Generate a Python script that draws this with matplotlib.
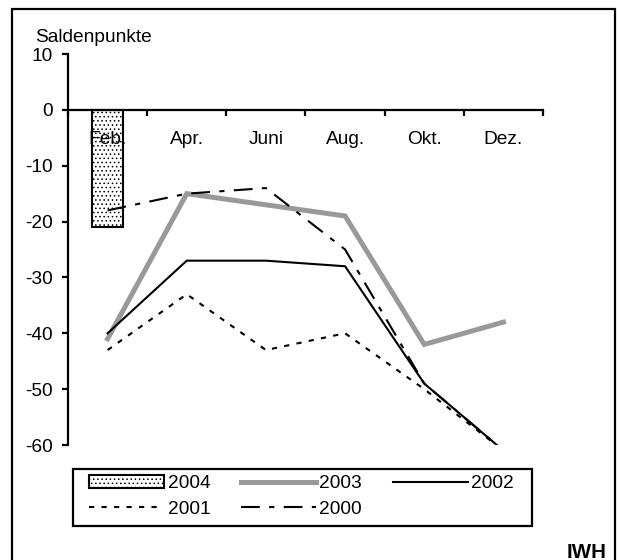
import matplotlib
matplotlib.use("Agg")
import matplotlib.pyplot as plt
from matplotlib.patches import Rectangle, Patch
from matplotlib.lines import Line2D

# data
months = ["Feb.", "Apr.", "Juni", "Aug.", "Okt.", "Dez."]
bar_2004 = [-21]
line_2003 = [-41, -15, -17, -19, -42, -38]
line_2002 = [-40, -27, -27, -28, -49, -61]
line_2001 = [-43, -33, -43, -40, -50, -61]
line_2000 = [-18, -15, -14, -25, -49, -61]

plt.rcParams['font.family'] = ['Liberation Sans', 'DejaVu Sans']
plt.rcParams['hatch.linewidth'] = 0.6
plt.rcParams['axes.unicode_minus'] = False
FS = 13.8

W, H = 618, 560
fig = plt.figure(figsize=(W / 100, H / 100), dpi=100)

# outer frame (runs off the bottom edge like in the reference)
fig.patches.append(Rectangle((12 / W, -0.05), (615 - 12) / W, 1.05 - 9 / H,
                             transform=fig.transFigure, fill=False,
                             edgecolor='black', linewidth=1.6))

ax = fig.add_axes([68 / W, 1 - 445 / H, (543 - 68) / W, (445 - 54) / H])
ax.set_axisbelow(False)
x = list(range(len(months)))

ax.bar(x[:len(bar_2004)], bar_2004, width=0.39, facecolor='white',
       edgecolor='black', linewidth=1.5, hatch='....', zorder=2)
ax.plot(x, line_2003, color='#999999', linewidth=3.6, zorder=3,
        solid_joinstyle='miter')
ax.plot(x, line_2002, color='black', linewidth=1.5, zorder=4)
ax.plot(x, line_2001, color='black', linewidth=1.5, dashes=(2.5, 3.5), zorder=4)
ax.plot(x, line_2000, color='black', linewidth=1.5, dashes=(9, 4.5, 2.5, 4.5),
        zorder=4)

ax.set_xlim(-0.5, len(months) - 0.5)
ax.set_ylim(-60, 10)
ax.set_yticks(range(-60, 11, 10))

ax.spines['top'].set_visible(False)
ax.spines['right'].set_visible(False)
ax.spines['bottom'].set_position(('data', 0))
ax.spines['left'].set_linewidth(1.6)
ax.spines['bottom'].set_linewidth(1.6)

ax.set_xticks([i - 0.5 for i in range(len(months) + 1)])
ax.set_xticklabels([])
ax.set_xticks(x, minor=True)
ax.set_xticklabels(months, minor=True)
ax.tick_params(axis='x', which='major', direction='out', length=4.5, width=1.6)
ax.tick_params(axis='x', which='minor', length=0, pad=15, labelsize=FS)
ax.tick_params(axis='y', direction='out', length=4.5, width=1.6, pad=6.5,
               labelsize=FS)

fig.text(35 / W, 1 - 37 / H, "Saldenpunkte", fontsize=FS, va='center', ha='left')
fig.text(607 / W, 1 - 552 / H, "IWH", fontsize=14.8, fontweight='bold',
         va='center', ha='right')

# legend, row-major order 2004 2003 2002 / 2001 2000
h2004 = Patch(facecolor='white', edgecolor='black', linewidth=1.5, hatch='....')
h2003 = Line2D([], [], color='#999999', linewidth=3.6)
h2002 = Line2D([], [], color='black', linewidth=1.5)
h2001 = Line2D([], [], color='black', linewidth=1.5, dashes=(2.5, 3.5))
h2000 = Line2D([], [], color='black', linewidth=1.5, dashes=(9, 4.5, 2.5, 4.5))
fig.legend([h2004, h2001, h2003, h2000, h2002],
           ["2004", "2001", "2003", "2000", "2002"],
           ncol=3, loc='upper left', bbox_to_anchor=(89 / W, 1 - 475 / H),
           frameon=False, fontsize=FS, handlelength=3.9, handletextpad=0.2,
           columnspacing=1.6, labelspacing=0.42, borderpad=0, borderaxespad=0)
fig.patches.append(Rectangle((73 / W, 1 - 526 / H), (532 - 73) / W, (526 - 469) / H,
                             transform=fig.transFigure, fill=False,
                             edgecolor='black', linewidth=1.6))

fig.savefig("out.png", dpi=100)
